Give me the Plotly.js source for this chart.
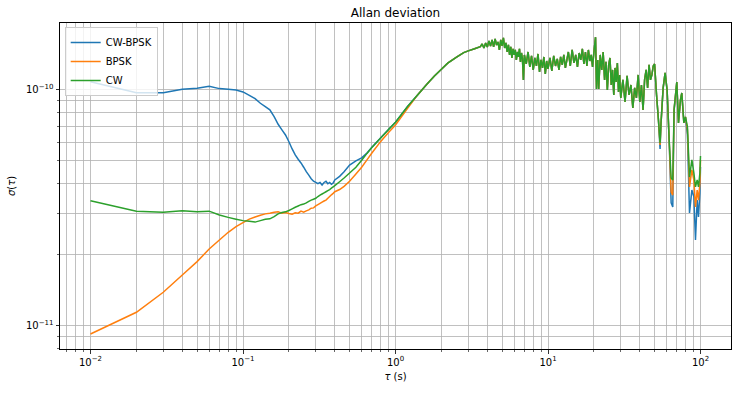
<!DOCTYPE html>
<html>
<head>
<meta charset="utf-8">
<script src="https://cdn.plot.ly/plotly-3.0.1.min.js"></script>
<style>
  html, body { margin: 0; padding: 0; background: #fff; }
  #chart { width: 737px; height: 394px; }
</style>
</head>
<body>
<div id="chart"></div>
<script>
// ---------- data ----------
const seriesNames = ['CW-BPSK', 'BPSK', 'CW'];
const seriesColors = ['#1f77b4', '#ff7f0e', '#2ca02c'];

// low tau section: the three series differ
const tauLow = [0.01,0.02,0.03,0.04,0.05,0.06,0.07,0.08,0.09,0.10,
  0.11,0.12,0.13,0.14,0.15,0.16,0.17,0.18,0.19,0.20,
  0.21,0.22,0.23,0.24,0.25,0.26,0.27,0.28,0.29,0.30,
  0.31,0.32,0.33,0.34,0.35,0.36,0.37,0.38,0.39,0.40,
  0.43,0.46,0.50,0.55,0.60,0.65,0.70,0.80,0.90,1.0,1.2];
const cwbpskLow = [1.084e-10,0.974e-10,0.974e-10,1.007e-10,1.017e-10,1.036e-10,1.013e-10,1.007e-10,1.000e-10,0.981e-10,
  0.949e-10,0.919e-10,0.878e-10,0.850e-10,0.823e-10,0.770e-10,0.715e-10,0.677e-10,0.644e-10,0.603e-10,
  0.562e-10,0.530e-10,0.508e-10,0.490e-10,0.470e-10,0.450e-10,0.435e-10,0.420e-10,0.410e-10,0.405e-10,
  0.400e-10,0.405e-10,0.395e-10,0.405e-10,0.410e-10,0.400e-10,0.405e-10,0.398e-10,0.403e-10,0.415e-10,
  0.430e-10,0.450e-10,0.480e-10,0.500e-10,0.515e-10,0.540e-10,0.572e-10,0.627e-10,0.680e-10,0.730e-10,0.850e-10];
const bpskLow = [0.0922e-10,0.114e-10,0.1386e-10,0.164e-10,0.187e-10,0.2115e-10,0.231e-10,0.249e-10,0.263e-10,0.2735e-10,
  0.283e-10,0.289e-10,0.294e-10,0.298e-10,0.300e-10,0.303e-10,0.304e-10,0.300e-10,0.302e-10,0.299e-10,
  0.297e-10,0.301e-10,0.300e-10,0.306e-10,0.303e-10,0.307e-10,0.310e-10,0.315e-10,0.316e-10,0.322e-10,
  0.326e-10,0.330e-10,0.334e-10,0.338e-10,0.341e-10,0.347e-10,0.353e-10,0.359e-10,0.364e-10,0.370e-10,
  0.378e-10,0.390e-10,0.410e-10,0.440e-10,0.470e-10,0.505e-10,0.540e-10,0.605e-10,0.660e-10,0.710e-10,0.835e-10];
const cwLow = [0.339e-10,0.306e-10,0.303e-10,0.307e-10,0.304e-10,0.306e-10,0.295e-10,0.288e-10,0.283e-10,0.279e-10,
  0.277e-10,0.275e-10,0.279e-10,0.283e-10,0.284e-10,0.290e-10,0.298e-10,0.302e-10,0.304e-10,0.308e-10,
  0.313e-10,0.318e-10,0.322e-10,0.326e-10,0.328e-10,0.332e-10,0.337e-10,0.341e-10,0.344e-10,0.347e-10,
  0.353e-10,0.358e-10,0.362e-10,0.366e-10,0.370e-10,0.374e-10,0.378e-10,0.383e-10,0.388e-10,0.393e-10,
  0.408e-10,0.423e-10,0.444e-10,0.470e-10,0.503e-10,0.538e-10,0.570e-10,0.625e-10,0.680e-10,0.730e-10,0.850e-10];

// middle tau section: the three series overlap
const tauMid = [1.4,1.6,1.8,2.0,2.2,2.5,2.8,3.0,3.3,3.6,
  3.7,3.8,3.9,4.0,4.1,4.2,4.3,4.4,4.5,4.6,4.7,4.8,4.9,5.0,5.1,5.2,5.3,5.4,5.5,5.6,
  5.7,5.8,5.9,6.0,6.1,6.2,6.3,6.4,6.5,6.6,6.7,6.8,6.9,7.0,7.2,7.4,7.6,7.8,8.0,8.2,
  8.4,8.6,8.8,9.0,9.2,9.4,9.6,9.8,10.0,10.3,10.6,10.9,11.2,11.5,11.8,12.1,12.4,12.7,13.0,13.3,
  13.6,14.0,14.4,14.8,15.2,15.6,16.0,16.4,16.8,17.2,17.6,18.0,18.4,18.8,19.2,19.6,20.0,20.5,20.8,21.2,
  21.5,22.0,22.5,23.0,23.5,24.0,24.5,25.0,25.5,26.0,26.5,27.0,27.5,28.0,28.5,29.0,29.5,30,31,32,
  33,34,35,36,37,38,39,40,41,42,43,44,45,46,47,48,49,50,51.5,53];
const sigmaMid = [0.955e-10,1.055e-10,1.145e-10,1.225e-10,1.300e-10,1.375e-10,1.440e-10,1.465e-10,1.495e-10,1.525e-10,
  1.567e-10,1.507e-10,1.583e-10,1.522e-10,1.614e-10,1.537e-10,1.630e-10,1.522e-10,1.646e-10,1.552e-10,1.598e-10,1.478e-10,1.630e-10,1.537e-10,1.662e-10,1.507e-10,1.583e-10,1.449e-10,1.552e-10,1.408e-10,
  1.522e-10,1.367e-10,1.493e-10,1.408e-10,1.478e-10,1.341e-10,1.449e-10,1.380e-10,1.493e-10,1.315e-10,1.435e-10,1.354e-10,1.103e-10,1.408e-10,1.289e-10,1.449e-10,1.252e-10,1.394e-10,1.216e-10,1.367e-10,
  1.264e-10,1.421e-10,1.192e-10,1.341e-10,1.240e-10,1.380e-10,1.169e-10,1.327e-10,1.228e-10,1.367e-10,1.204e-10,1.394e-10,1.264e-10,1.354e-10,1.216e-10,1.380e-10,1.277e-10,1.408e-10,1.240e-10,1.341e-10,
  1.449e-10,1.264e-10,1.478e-10,1.302e-10,1.408e-10,1.252e-10,1.435e-10,1.341e-10,1.493e-10,1.289e-10,1.449e-10,1.264e-10,1.478e-10,1.327e-10,1.408e-10,1.252e-10,1.449e-10,1.674e-10,1.010e-10,1.341e-10,
  1.010e-10,1.408e-10,1.216e-10,1.449e-10,1.103e-10,1.315e-10,1.000e-10,1.277e-10,1.367e-10,1.050e-10,1.216e-10,0.952e-10,1.240e-10,1.081e-10,1.302e-10,0.981e-10,1.158e-10,0.925e-10,1.103e-10,0.889e-10,
  1.147e-10,0.952e-10,1.050e-10,0.839e-10,1.020e-10,0.925e-10,1.158e-10,0.889e-10,1.050e-10,0.823e-10,1.103e-10,1.216e-10,1.020e-10,1.277e-10,1.103e-10,1.158e-10,1.264e-10,1.289e-10,0.952e-10,0.746e-10];

// high tau end section: the series separate again in the dips
const tauEnd = [54.3,55.1,56.9,58.6,60.4,62.3,64.2,65.8,67.1,69.9,71.7,73.9,75.4,77.8,79.7,82.1,84.7,87.8,90.5,92.7,95.1,97.0,99.1,100];
const cwbpskEnd = [0.562e-10,0.725e-10,1.020e-10,1.181e-10,1.000e-10,0.614e-10,0.332e-10,0.319e-10,0.823e-10,1.081e-10,0.725e-10,0.907e-10,0.971e-10,0.725e-10,0.768e-10,0.644e-10,0.301e-10,0.376e-10,0.352e-10,0.231e-10,0.341e-10,0.289e-10,0.366e-10,0.471e-10];
const bpskEnd = [0.584e-10,0.725e-10,1.020e-10,1.181e-10,1.000e-10,0.614e-10,0.369e-10,0.358e-10,0.823e-10,1.081e-10,0.725e-10,0.907e-10,0.971e-10,0.725e-10,0.768e-10,0.677e-10,0.388e-10,0.458e-10,0.415e-10,0.319e-10,0.376e-10,0.341e-10,0.403e-10,0.505e-10];
const cwEnd = [0.596e-10,0.725e-10,1.020e-10,1.181e-10,1.000e-10,0.614e-10,0.423e-10,0.415e-10,0.823e-10,1.081e-10,0.725e-10,0.907e-10,0.971e-10,0.725e-10,0.768e-10,0.697e-10,0.427e-10,0.505e-10,0.444e-10,0.388e-10,0.415e-10,0.388e-10,0.444e-10,0.525e-10];

// axis ticks
const xTickVals = [0.01, 0.1, 1, 10, 100];
const xTickText = ['10<sup>−2</sup>', '10<sup>−1</sup>', '10<sup>0</sup>', '10<sup>1</sup>', '10<sup>2</sup>'];
const xMinorVals = [0.007,0.008,0.009,0.02,0.03,0.04,0.05,0.06,0.07,0.08,0.09,
  0.2,0.3,0.4,0.5,0.6,0.7,0.8,0.9,2,3,4,5,6,7,8,9,20,30,40,50,60,70,80,90];
const yTickVals = [1e-11, 1e-10];
const yTickText = ['10<sup>−11</sup>', '10<sup>−10</sup>'];
const yMinorVals = [8e-12,9e-12,2e-11,3e-11,4e-11,5e-11,6e-11,7e-11,8e-11,9e-11];

// ---------- build traces ----------
const lows = [cwbpskLow, bpskLow, cwLow];
const ends = [cwbpskEnd, bpskEnd, cwEnd];
const traces = seriesNames.map((name, i) => ({
  type: 'scatter',
  mode: 'lines',
  name: name,
  x: tauLow.concat(tauMid, tauEnd),
  y: lows[i].concat(sigmaMid, ends[i]),
  line: { color: seriesColors[i], width: 1.5, simplify: false },
  hoverinfo: 'skip'
}));

const gridColor = '#b0b0b0';
const layout = {
  width: 737, height: 394,
  margin: { l: 60, r: 6, t: 23, b: 45, pad: 0 },
  paper_bgcolor: '#ffffff', plot_bgcolor: '#ffffff',
  font: { family: 'DejaVu Sans, sans-serif', size: 10, color: '#000000' },
  showlegend: true,
  title: { text: 'Allan deviation', font: { size: 12, color: '#000000' },
    x: 0.5, xref: 'paper', xanchor: 'center', y: 1, yref: 'paper', yanchor: 'bottom', pad: { b: 6 } },
  xaxis: {
    type: 'log', range: [-2.2, 2.2], autorange: false,
    tickmode: 'array', tickvals: xTickVals, ticktext: xTickText,
    ticks: 'outside', ticklen: 3.5, tickwidth: 0.8, tickcolor: '#000000',
    showline: true, linecolor: '#000000', linewidth: 1, mirror: true,
    showgrid: true, gridcolor: gridColor, gridwidth: 0.8, zeroline: false,
    minor: { tickmode: 'array', tickvals: xMinorVals, ticks: 'outside', ticklen: 2, tickwidth: 0.6,
      tickcolor: '#000000', showgrid: true, gridcolor: gridColor, gridwidth: 0.8 },
    title: { text: '<i>τ</i> (s)', font: { size: 10 }, standoff: 6 }
  },
  yaxis: {
    type: 'log', range: [-11.099, -9.716], autorange: false,
    tickmode: 'array', tickvals: yTickVals, ticktext: yTickText,
    ticks: 'outside', ticklen: 3.5, tickwidth: 0.8, tickcolor: '#000000',
    showline: true, linecolor: '#000000', linewidth: 1, mirror: true,
    showgrid: true, gridcolor: gridColor, gridwidth: 0.8, zeroline: false,
    minor: { tickmode: 'array', tickvals: yMinorVals, ticks: 'outside', ticklen: 2, tickwidth: 0.6,
      tickcolor: '#000000', showgrid: true, gridcolor: gridColor, gridwidth: 0.8 },
    title: { text: '<i>σ</i>(<i>τ</i>)', font: { size: 10 }, standoff: 8 }
  },
  legend: {
    x: 0.007, y: 0.988, xanchor: 'left', yanchor: 'top',
    bgcolor: 'rgba(255,255,255,0.8)', bordercolor: '#cccccc', borderwidth: 1,
    font: { size: 10, color: '#000000' }, tracegroupgap: 0
  }
};

Plotly.newPlot('chart', traces, layout, { displayModeBar: false, staticPlot: true });
</script>
</body>
</html>
